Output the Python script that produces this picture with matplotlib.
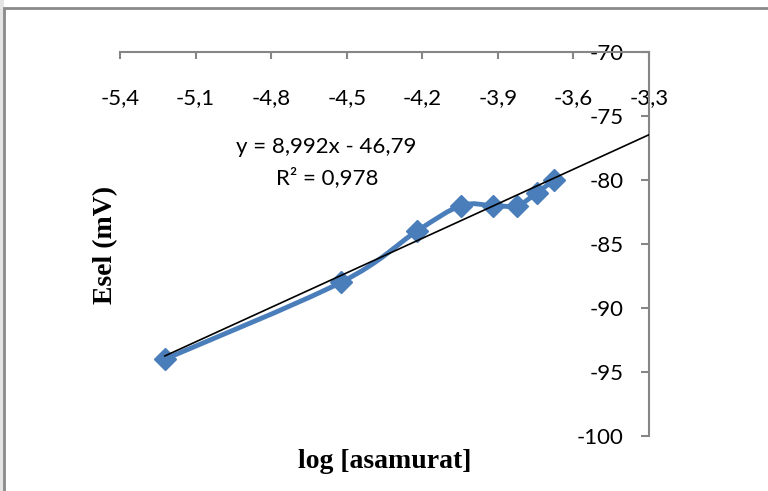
import numpy as np
import matplotlib
matplotlib.use("Agg")
import matplotlib.pyplot as plt
from matplotlib.path import Path
from matplotlib.patches import PathPatch, Rectangle
from matplotlib.ticker import FuncFormatter

# log of concentration vs electrode potential
log_conc = [-5.222, -4.523, -4.222, -4.046, -3.921, -3.824, -3.745, -3.678]
esel = [-94, -88, -84, -82, -82, -82, -81, -80]

slope = 8.992
intercept = -46.79
r2 = 0.978

x_ticks = [-5.4, -5.1, -4.8, -4.5, -4.2, -3.9, -3.6, -3.3]
y_ticks = [-70, -75, -80, -85, -90, -95, -100]

blue = "#4a7ebb"
axis_grey = "#868686"

plt.rcParams["font.family"] = ["Lato", "DejaVu Sans"]

fig = plt.figure(figsize=(7.68, 4.91), dpi=100)
W, H = 768, 491
ax = fig.add_axes([120 / W, 1 - 436 / H, (649 - 120) / W, (436 - 52) / H])
ax.set_zorder(2)
ax.set_xlim(-5.4, -3.3)
ax.set_ylim(-100, -70)

# chart frame
fig.add_artist(Rectangle((0, 0), 4 / W, 1, transform=fig.transFigure,
                         facecolor="#e4e4e4", edgecolor="none", zorder=0))
fig.add_artist(Rectangle((4 / W, -0.05), 1.1, 1 - 8 / H + 0.05,
                         transform=fig.transFigure, facecolor="white",
                         edgecolor="#8a8a8a", linewidth=2, zorder=0.5))

# axes crossing at the top-right corner
for s in ["top", "right"]:
    ax.spines[s].set_visible(False)
ax.spines["bottom"].set_position(("data", -70))
ax.spines["left"].set_position(("data", -3.3))
for s in ["bottom", "left"]:
    ax.spines[s].set_color(axis_grey)
    ax.spines[s].set_linewidth(1.5)
ax.patch.set_visible(False)

ax.set_xticks(x_ticks)
ax.set_yticks(y_ticks)
comma = FuncFormatter(lambda v, p: f"{v:g}".replace(".", ","))
ax.xaxis.set_major_formatter(comma)
ax.yaxis.set_major_formatter(comma)
ax.tick_params(axis="x", direction="out", length=5, width=1.5, color=axis_grey,
               pad=21, labelsize=16)
ax.tick_params(axis="y", direction="out", length=6, width=1.5, color=axis_grey,
               pad=12, labelsize=16)

# smoothed data line (cubic bezier segments through the points)
pts = np.column_stack([log_conc, esel])
verts = [pts[0]]
codes = [Path.MOVETO]
n = len(pts)
for i in range(n - 1):
    p0 = pts[max(i - 1, 0)]
    p1 = pts[i]
    p2 = pts[i + 1]
    p3 = pts[min(i + 2, n - 1)]
    c1 = p1 + (p2 - p0) / 6
    c2 = p2 - (p3 - p1) / 6
    verts += [c1, c2, p2]
    codes += [Path.CURVE4] * 3
ax.add_patch(PathPatch(Path(verts, codes), facecolor="none", edgecolor=blue,
                       linewidth=3.5, capstyle="round", joinstyle="round", zorder=3))
ax.plot(log_conc, esel, linestyle="none", marker="D", markersize=11,
        color=blue, zorder=4, clip_on=False)

# linear trendline
tx = np.array([log_conc[0], -3.3])
ax.plot(tx, slope * tx + intercept, color="black", linewidth=1.2, zorder=5)

ax.text(-4.582, -77.4, f"y = {slope:.3f}x - {abs(intercept):.2f}".replace(".", ","),
        ha="center", va="center", fontsize=16)
ax.text(-4.578, -79.8, f"R² = {r2:.3f}".replace(".", ","),
        ha="center", va="center", fontsize=16)

fig.text(106 / W, 1 - 245 / H, "Esel (mV)", rotation=90, ha="center", va="center",
         fontsize=20, fontweight="bold", family="Liberation Serif")
fig.text(385 / W, 1 - 461 / H, "log [asamurat]", ha="center", va="center",
         fontsize=20, fontweight="bold", family="Liberation Serif")

fig.savefig("out.png", dpi=100)
